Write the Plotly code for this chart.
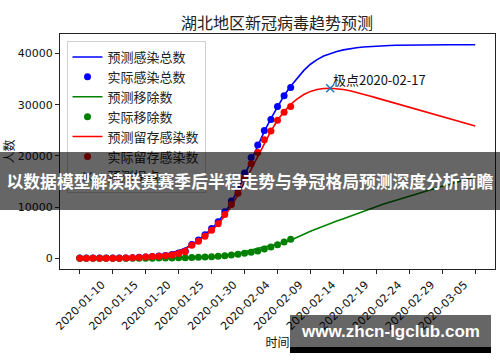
import pandas as pd
import plotly.graph_objects as go

# ---------------- data ----------------
start_date = "2020-01-10"
n_pred_days = 61
n_actual_days = 33

pred_total = [41, 43, 46, 52, 60, 72, 90, 118, 160, 218, 300, 415, 570, 790, 1080, 1470, 1990,
              2670, 3540, 4560, 5750, 7150, 8850, 10950, 13400, 16200, 19100, 22000, 24800,
              27300, 29700, 31800, 33600, 35200, 36700, 37900, 38800, 39500, 40000, 40400,
              40700, 40950, 41120, 41260, 41370, 41450, 41510, 41560, 41600, 41630, 41650,
              41670, 41680, 41690, 41700, 41705, 41710, 41712, 41715, 41718, 41720]
pred_removed = [3, 3, 3, 4, 5, 6, 8, 10, 14, 18, 24, 30, 40, 55, 80, 100, 130, 170, 210, 270,
                350, 450, 550, 750, 1000, 1300, 1600, 1950, 2250, 2450, 2750, 3150, 3550, 4050,
                4700, 5300, 5830, 6330, 6800, 7280, 7740, 8230, 8700, 9180, 9660, 10120, 10550,
                10970, 11380, 11780, 12170, 12560, 12940, 13320, 13700, 14075, 14450, 14810,
                15175, 15540, 15900]
pred_active = [38, 40, 43, 48, 55, 66, 82, 108, 146, 200, 276, 385, 530, 735, 1000, 1370, 1860,
               2500, 3330, 4290, 5400, 6700, 8300, 10200, 12400, 14900, 17500, 20050, 22550,
               24850, 26950, 28650, 30050, 31150, 32000, 32600, 32970, 33170, 33200, 33120,
               32960, 32720, 32420, 32080, 31710, 31330, 30960, 30590, 30220, 29850, 29480,
               29110, 28740, 28370, 28000, 27630, 27260, 26900, 26540, 26180, 25820]

actual_total = [41, 41, 41, 41, 41, 41, 45, 62, 121, 198, 270, 375, 444, 549, 729, 1052, 1423,
                2714, 3554, 4586, 5806, 7153, 9074, 11177, 13522, 16678, 19665, 22112, 24953,
                27100, 29631, 31728, 33366]
actual_removed = [3, 3, 3, 3, 7, 7, 10, 15, 19, 21, 31, 34, 45, 55, 71, 94, 120, 147, 205, 252,
                  320, 415, 509, 645, 810, 999, 1182, 1435, 1814, 2219, 2666, 3196, 3707]
actual_active = [38, 38, 38, 38, 34, 34, 35, 47, 102, 177, 239, 341, 399, 494, 658, 958, 1303,
                 2567, 3349, 4334, 5486, 6738, 8565, 10532, 12712, 15679, 18483, 20677, 23139,
                 24881, 26965, 28532, 29659]

peak_date = "2020-02-17"
peak_label = "极点2020-02-17"

tick_dates = ["2020-01-10", "2020-01-15", "2020-01-20", "2020-01-25", "2020-01-30",
              "2020-02-04", "2020-02-09", "2020-02-14", "2020-02-19", "2020-02-24",
              "2020-02-29", "2020-03-05", "2020-03-10"]
tick_labels = ["2020-01-10", "2020-01-15", "2020-01-20", "2020-01-25", "2020-01-30",
               "2020-02-04", "2020-02-09", "2020-02-14", "2020-02-19", "2020-02-24",
               "2020-02-29", "2020-03-05", ""]
y_ticks = [0, 10000, 20000, 30000, 40000]
y_tick_labels = ["0", "10000", "20000", "30000", "40000"]

title_text = "湖北地区新冠病毒趋势预测"
banner_text = "以数据模型解读联赛赛季后半程走势与争冠格局预测深度分析前瞻"
watermark_text = "www.zhcn-lgclub.com"

# ---------------- figure ----------------
pred_dates = pd.date_range(start_date, periods=n_pred_days)
act_dates = pred_dates[:n_actual_days]
peak_idx = list(pred_dates.strftime("%Y-%m-%d")).index(peak_date)
peak_val = pred_active[peak_idx]

W, H = 500, 362
L, R, T, B = 60, 495, 34, 269


def px(x):
    return (x - L) / (R - L)


def py(y):
    return (B - y) / (B - T)


CJK = "Noto Sans CJK SC"
NUM = "DejaVu Sans"

fig = go.Figure()
fig.add_trace(go.Scatter(x=pred_dates, y=pred_total, mode="lines", name="预测感染总数",
                         line=dict(color="#0000ff", width=1.6)))
fig.add_trace(go.Scatter(x=act_dates, y=actual_total, mode="markers", name="实际感染总数",
                         marker=dict(color="#0000ff", size=7)))
fig.add_trace(go.Scatter(x=pred_dates, y=pred_removed, mode="lines", name="预测移除数",
                         line=dict(color="#008000", width=1.6)))
fig.add_trace(go.Scatter(x=act_dates, y=actual_removed, mode="markers", name="实际移除数",
                         marker=dict(color="#008000", size=7)))
fig.add_trace(go.Scatter(x=pred_dates, y=pred_active, mode="lines", name="预测留存感染数",
                         line=dict(color="#ff0000", width=1.6)))
fig.add_trace(go.Scatter(x=act_dates, y=actual_active, mode="markers", name="实际留存感染数",
                         marker=dict(color="#ff0000", size=7)))
fig.add_trace(go.Scatter(x=[pd.Timestamp(peak_date)], y=[peak_val], mode="markers", name="预测拐点",
                         marker=dict(symbol="x-thin", size=8, color="#1f77b4",
                                     line=dict(color="#1f77b4", width=1.5))))

fig.add_annotation(x=pd.Timestamp(peak_date), y=peak_val, xref="x", yref="y", text=peak_label,
                   showarrow=False, xanchor="left", yanchor="bottom", xshift=1, yshift=-3,
                   font=dict(family=CJK, size=13, color="#111"))

# banner overlay (annotation so it sits above the legend)
fig.add_annotation(xref="paper", yref="paper", x=px(250), y=py(181), xanchor="center",
                   yanchor="middle", width=500, height=58, borderpad=0, borderwidth=0,
                   bgcolor="rgba(0,0,0,0.6)", showarrow=False,
                   text="<b>" + banner_text + "</b>",
                   font=dict(family=CJK, size=16.8, color="white"))

# watermark
fig.add_shape(type="rect", xref="paper", yref="paper", x0=px(290), x1=px(491),
              y0=py(347), y1=py(315), fillcolor="rgba(0,0,0,0.6)", line=dict(width=0),
              layer="above")
fig.add_shape(type="rect", xref="paper", yref="paper", x0=px(290), x1=px(491),
              y0=py(353), y1=py(347), fillcolor="black", line=dict(width=0), layer="above")
fig.add_annotation(xref="paper", yref="paper", x=px(390.5), y=py(331), xanchor="center",
                   yanchor="middle", showarrow=False, text="<b>" + watermark_text + "</b>",
                   font=dict(family="Liberation Sans", size=17, color="white"))

fig.update_layout(
    width=W, height=H,
    margin=dict(l=L, r=W - R, t=T, b=H - B, pad=0),
    paper_bgcolor="white", plot_bgcolor="white",
    title=dict(text=title_text, x=px(277), xanchor="center", xref="paper",
               y=1 - 23 / H, yanchor="middle", yref="container",
               font=dict(family=CJK, size=16, color="#222")),
    showlegend=True,
    legend=dict(x=px(66.5), y=py(41), xanchor="left", yanchor="top",
                bgcolor="rgba(255,255,255,0.85)", bordercolor="#d0d0d0", borderwidth=1,
                font=dict(family=CJK, size=13, color="#222"), itemwidth=30,
                tracegroupgap=0),
    font=dict(family=NUM, color="black"),
)

fig.update_xaxes(type="date", range=["2020-01-07", "2020-03-13"],
                 tickvals=list(pd.to_datetime(tick_dates)), ticktext=tick_labels,
                 tickangle=-45, tickfont=dict(family=NUM, size=11, color="#111"),
                 ticks="outside", ticklen=4, tickcolor="#222", tickwidth=1,
                 showline=True, mirror=True, linecolor="#222", linewidth=1,
                 showgrid=False, zeroline=False, ticklabelshift=22,
                 title=dict(text="时间", font=dict(family=CJK, size=12, color="#111"),
                            standoff=2))
fig.update_yaxes(range=[-2085, 43806], tickvals=y_ticks, ticktext=y_tick_labels,
                 tickfont=dict(family=NUM, size=11, color="#111"),
                 ticks="outside", ticklen=4, tickcolor="#222", tickwidth=1,
                 showline=True, mirror=True, linecolor="#222", linewidth=1,
                 showgrid=False, zeroline=False,
                 title=dict(text="人数", font=dict(family=CJK, size=12, color="#111"),
                            standoff=2))

fig.write_html("out.html")
